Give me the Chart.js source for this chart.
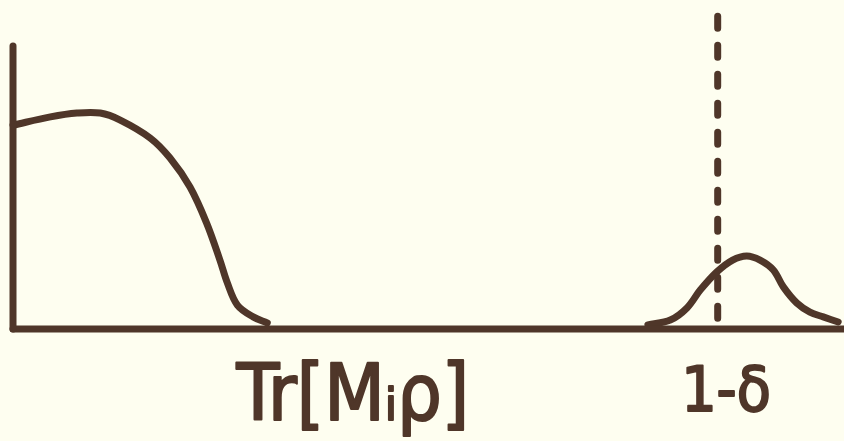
<!DOCTYPE html>
<html>
<head>
<meta charset="utf-8">
<script src="https://cdn.jsdelivr.net/npm/chart.js@4.4.1/dist/chart.umd.min.js"></script>
<style>
    html, body { margin: 0; padding: 0; background: #fefef0; }
    #wrap { width: 844px; height: 441px; }
</style>
</head>
<body>
<div id="wrap"><canvas id="sketch"></canvas></div>
<script>
const ink = '#4f3629'

// left curve: distribution of Tr[M_i rho]
const lowX = [0, 4.5, 7.7, 10.5, 12.9, 16.5, 18.9, 21.3, 23.3, 24.9, 25.8, 27.0, 28.9, 30.6]
const lowY = [63.9, 66.5, 67.7, 67.7, 65.5, 59.9, 53.6, 44.5, 33.2, 21.6, 14.4, 7.5, 3.8, 1.9]

// right bump around 1 - delta
const highX = [76.4, 79.1, 81.1, 82.7, 84.7, 86.6, 88.3, 89.9, 91.5, 92.7, 94.3, 95.9, 97.5, 99.3]
const highY = [1.3, 2.8, 6.6, 12.2, 17.9, 21.6, 22.9, 21.6, 18.5, 13.2, 8.2, 5.3, 3.8, 2.2]

// threshold (dashed) and axes
const thresholdX = 84.8
const thresholdY = [3.4, 100]
const axisTopY = 88.7
const axisEndX = 100

const tickValues = [40.9, 85.8]
const tickLabels = ['Tr[Mᵢρ]', '1-δ']
const tickSizes = [78, 62]
const tickDrop = [91, 82]

const toPoints = (xs, ys) => xs.map((x, i) => ({x, y: ys[i]}))

const lineStyle = {
    borderColor: ink,
    borderWidth: 7,
    borderCapStyle: 'round',
    borderJoinStyle: 'round',
    pointRadius: 0,
    fill: false,
    clip: false,
}

const handLabels = {
    id: 'handLabels',
    afterDraw(chart) {
        const {ctx, scales: {x, y}} = chart
        const base = y.getPixelForValue(0)
        ctx.save()
        ctx.fillStyle = ink
        ctx.strokeStyle = ink
        ctx.lineWidth = 2
        ctx.lineJoin = 'round'
        ctx.textAlign = 'center'
        ctx.textBaseline = 'alphabetic'
        tickLabels.forEach((text, i) => {
            ctx.font = `${tickSizes[i]}px "DejaVu Sans Condensed", "DejaVu Sans", sans-serif`
            const px = x.getPixelForValue(tickValues[i])
            ctx.fillText(text, px, base + tickDrop[i])
            ctx.strokeText(text, px, base + tickDrop[i])
        })
        ctx.restore()
    }
}

new Chart(document.getElementById('sketch'), {
    type: 'scatter',
    data: {
        datasets: [
            {...lineStyle, data: toPoints([0, 0], [0, axisTopY]), tension: 0},
            {...lineStyle, data: toPoints([0, axisEndX], [0, 0]), tension: 0},
            {...lineStyle, data: toPoints(lowX, lowY), tension: 0.35},
            {...lineStyle, data: toPoints(highX, highY), tension: 0.35},
            {...lineStyle, data: toPoints([thresholdX, thresholdX], thresholdY), borderDash: [12, 17], tension: 0},
        ].map(ds => ({showLine: true, ...ds}))
    },
    options: {
        responsive: true,
        maintainAspectRatio: false,
        animation: false,
        layout: {padding: {left: 13, right: 0, top: 10, bottom: 112}},
        plugins: {legend: {display: false}, tooltip: {enabled: false}},
        scales: {
            x: {type: 'linear', min: 0, max: 100, display: false},
            y: {type: 'linear', min: 0, max: 100, display: false},
        }
    },
    plugins: [handLabels]
});
</script>
</body>
</html>
